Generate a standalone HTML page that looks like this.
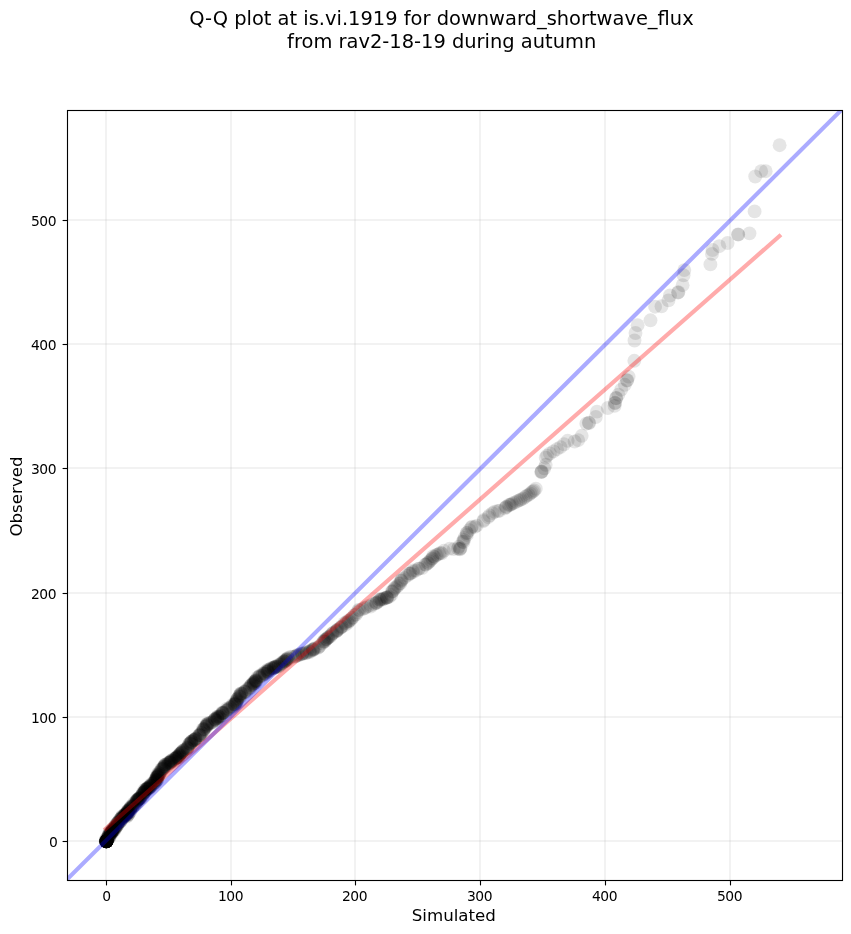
<!DOCTYPE html>
<html><head><meta charset="utf-8"><title>Q-Q plot</title>
<style>
html,body{margin:0;padding:0;background:#fff;}
body{width:851px;height:934px;overflow:hidden;}
svg{display:block;font-family:"DejaVu Sans","Liberation Sans",sans-serif;}
</style></head><body>
<svg width="851" height="934" viewBox="0 0 851 934">
<rect width="851" height="934" fill="#fff"/>
<defs><clipPath id="ax"><rect x="67.5" y="110.5" width="775" height="770"/></clipPath></defs>
<g stroke="#b0b0b0" stroke-opacity="0.165" stroke-width="2" fill="none"><line x1="106.0" y1="110.5" x2="106.0" y2="880.5"/><line x1="67.5" y1="841.0" x2="842.5" y2="841.0"/><line x1="231.0" y1="110.5" x2="231.0" y2="880.5"/><line x1="67.5" y1="717.0" x2="842.5" y2="717.0"/><line x1="355.0" y1="110.5" x2="355.0" y2="880.5"/><line x1="67.5" y1="593.0" x2="842.5" y2="593.0"/><line x1="480.0" y1="110.5" x2="480.0" y2="880.5"/><line x1="67.5" y1="468.0" x2="842.5" y2="468.0"/><line x1="605.0" y1="110.5" x2="605.0" y2="880.5"/><line x1="67.5" y1="344.0" x2="842.5" y2="344.0"/><line x1="730.0" y1="110.5" x2="730.0" y2="880.5"/><line x1="67.5" y1="220.0" x2="842.5" y2="220.0"/></g>
<g clip-path="url(#ax)">
<g fill="#000" fill-opacity="0.1"><circle cx="779.6" cy="145.2" r="6.94"/><circle cx="765.7" cy="171.2" r="6.94"/><circle cx="761.2" cy="171.2" r="6.94"/><circle cx="755.2" cy="176.5" r="6.94"/><circle cx="754.6" cy="211.4" r="6.94"/><circle cx="749.5" cy="233.4" r="6.94"/><circle cx="738.0" cy="234.4" r="6.94"/><circle cx="738.3" cy="234.6" r="6.94"/><circle cx="727.6" cy="243.0" r="6.94"/><circle cx="719.3" cy="246.2" r="6.94"/><circle cx="712.5" cy="250.0" r="6.94"/><circle cx="712.0" cy="253.9" r="6.94"/><circle cx="710.4" cy="264.4" r="6.94"/><circle cx="684.3" cy="270.1" r="6.94"/><circle cx="683.6" cy="275.3" r="6.94"/><circle cx="682.6" cy="285.2" r="6.94"/><circle cx="678.4" cy="292.2" r="6.94"/><circle cx="678.0" cy="292.6" r="6.94"/><circle cx="670.0" cy="295.5" r="6.94"/><circle cx="668.5" cy="300.4" r="6.94"/><circle cx="661.5" cy="306.3" r="6.94"/><circle cx="655.1" cy="306.7" r="6.94"/><circle cx="650.5" cy="320.3" r="6.94"/><circle cx="637.6" cy="325.2" r="6.94"/><circle cx="635.5" cy="333.0" r="6.94"/><circle cx="634.5" cy="340.5" r="6.94"/><circle cx="634.3" cy="360.8" r="6.94"/><circle cx="628.6" cy="376.6" r="6.94"/><circle cx="626.9" cy="380.5" r="6.94"/><circle cx="627.2" cy="380.2" r="6.94"/><circle cx="624.8" cy="384.8" r="6.94"/><circle cx="621.2" cy="389.7" r="6.94"/><circle cx="618.4" cy="394.6" r="6.94"/><circle cx="616.0" cy="398.2" r="6.94"/><circle cx="616.3" cy="398.0" r="6.94"/><circle cx="614.9" cy="403.1" r="6.94"/><circle cx="615.1" cy="402.8" r="6.94"/><circle cx="614.6" cy="405.9" r="6.94"/><circle cx="607.8" cy="408.0" r="6.94"/><circle cx="597.0" cy="411.6" r="6.94"/><circle cx="595.8" cy="417.0" r="6.94"/><circle cx="589.1" cy="423.0" r="6.94"/><circle cx="588.8" cy="422.7" r="6.94"/><circle cx="586.3" cy="423.7" r="6.94"/><circle cx="581.7" cy="435.8" r="6.94"/><circle cx="578.2" cy="440.1" r="6.94"/><circle cx="574.6" cy="441.5" r="6.94"/><circle cx="567.6" cy="440.8" r="6.94"/><circle cx="564.0" cy="444.3" r="6.94"/><circle cx="560.5" cy="447.1" r="6.94"/><circle cx="557.0" cy="449.2" r="6.94"/><circle cx="553.5" cy="451.4" r="6.94"/><circle cx="549.9" cy="453.5" r="6.94"/><circle cx="547.1" cy="455.6" r="6.94"/><circle cx="545.7" cy="457.7" r="6.94"/><circle cx="545.7" cy="464.8" r="6.94"/><circle cx="544.3" cy="468.3" r="6.94"/><circle cx="541.5" cy="471.8" r="6.94"/><circle cx="541.8" cy="471.5" r="6.94"/><circle cx="541.2" cy="472.1" r="6.94"/><circle cx="535.8" cy="488.7" r="6.94"/><circle cx="533.0" cy="491.5" r="6.94"/><circle cx="530.2" cy="493.7" r="6.94"/><circle cx="526.7" cy="495.8" r="6.94"/><circle cx="523.1" cy="498.6" r="6.94"/><circle cx="518.2" cy="500.7" r="6.94"/><circle cx="514.0" cy="502.8" r="6.94"/><circle cx="509.7" cy="504.9" r="6.94"/><circle cx="534.2" cy="490.4" r="6.94"/><circle cx="531.5" cy="492.3" r="6.94"/><circle cx="528.6" cy="494.9" r="6.94"/><circle cx="525.0" cy="497.0" r="6.94"/><circle cx="521.0" cy="499.4" r="6.94"/><circle cx="516.3" cy="501.9" r="6.94"/><circle cx="512.0" cy="503.6" r="6.94"/><circle cx="520.0" cy="500.2" r="6.94"/><circle cx="511.0" cy="504.6" r="6.94"/><circle cx="508.9" cy="505.0" r="6.94"/><circle cx="506.5" cy="506.7" r="6.94"/><circle cx="506.0" cy="507.1" r="6.94"/><circle cx="505.0" cy="508.3" r="6.94"/><circle cx="499.4" cy="510.8" r="6.94"/><circle cx="497.8" cy="511.0" r="6.94"/><circle cx="494.6" cy="511.8" r="6.94"/><circle cx="492.5" cy="513.1" r="6.94"/><circle cx="489.4" cy="515.5" r="6.94"/><circle cx="488.2" cy="517.2" r="6.94"/><circle cx="483.8" cy="520.0" r="6.94"/><circle cx="483.4" cy="521.2" r="6.94"/><circle cx="476.7" cy="525.6" r="6.94"/><circle cx="474.8" cy="526.9" r="6.94"/><circle cx="472.0" cy="526.7" r="6.94"/><circle cx="471.2" cy="527.7" r="6.94"/><circle cx="469.3" cy="530.2" r="6.94"/><circle cx="467.1" cy="532.8" r="6.94"/><circle cx="466.6" cy="533.1" r="6.94"/><circle cx="466.9" cy="534.9" r="6.94"/><circle cx="464.4" cy="538.0" r="6.94"/><circle cx="463.8" cy="539.9" r="6.94"/><circle cx="463.5" cy="542.0" r="6.94"/><circle cx="462.5" cy="541.8" r="6.94"/><circle cx="458.7" cy="546.8" r="6.94"/><circle cx="460.6" cy="548.2" r="6.94"/><circle cx="459.8" cy="548.9" r="6.94"/><circle cx="460.0" cy="549.3" r="6.94"/><circle cx="457.8" cy="548.7" r="6.94"/><circle cx="453.7" cy="549.1" r="6.94"/><circle cx="449.7" cy="548.6" r="6.94"/><circle cx="443.9" cy="550.8" r="6.94"/><circle cx="441.7" cy="553.3" r="6.94"/><circle cx="440.5" cy="552.9" r="6.94"/><circle cx="439.2" cy="553.7" r="6.94"/><circle cx="437.4" cy="554.7" r="6.94"/><circle cx="436.1" cy="555.2" r="6.94"/><circle cx="434.4" cy="556.9" r="6.94"/><circle cx="433.2" cy="556.2" r="6.94"/><circle cx="432.3" cy="558.1" r="6.94"/><circle cx="432.1" cy="558.9" r="6.94"/><circle cx="430.6" cy="560.1" r="6.94"/><circle cx="429.4" cy="561.5" r="6.94"/><circle cx="428.2" cy="562.9" r="6.94"/><circle cx="427.5" cy="563.2" r="6.94"/><circle cx="426.1" cy="564.5" r="6.94"/><circle cx="425.2" cy="564.6" r="6.94"/><circle cx="422.2" cy="568.0" r="6.94"/><circle cx="419.1" cy="568.6" r="6.94"/><circle cx="418.5" cy="568.7" r="6.94"/><circle cx="415.9" cy="570.5" r="6.94"/><circle cx="413.0" cy="570.5" r="6.94"/><circle cx="413.0" cy="572.0" r="6.94"/><circle cx="410.6" cy="573.2" r="6.94"/><circle cx="409.2" cy="573.6" r="6.94"/><circle cx="410.0" cy="573.8" r="6.94"/><circle cx="407.3" cy="575.6" r="6.94"/><circle cx="404.3" cy="577.9" r="6.94"/><circle cx="401.9" cy="579.3" r="6.94"/><circle cx="401.4" cy="580.8" r="6.94"/><circle cx="400.9" cy="580.7" r="6.94"/><circle cx="400.6" cy="583.1" r="6.94"/><circle cx="399.3" cy="583.7" r="6.94"/><circle cx="397.9" cy="585.7" r="6.94"/><circle cx="396.4" cy="586.9" r="6.94"/><circle cx="394.7" cy="588.0" r="6.94"/><circle cx="394.5" cy="589.1" r="6.94"/><circle cx="393.1" cy="590.7" r="6.94"/><circle cx="391.8" cy="591.7" r="6.94"/><circle cx="392.6" cy="591.5" r="6.94"/><circle cx="391.2" cy="594.9" r="6.94"/><circle cx="389.3" cy="596.9" r="6.94"/><circle cx="387.6" cy="597.0" r="6.94"/><circle cx="386.9" cy="597.5" r="6.94"/><circle cx="386.6" cy="597.9" r="6.94"/><circle cx="386.8" cy="597.7" r="6.94"/><circle cx="384.8" cy="598.0" r="6.94"/><circle cx="383.9" cy="598.9" r="6.94"/><circle cx="382.7" cy="599.1" r="6.94"/><circle cx="381.3" cy="598.9" r="6.94"/><circle cx="381.5" cy="599.8" r="6.94"/><circle cx="379.7" cy="599.6" r="6.94"/><circle cx="379.9" cy="599.9" r="6.94"/><circle cx="378.4" cy="601.6" r="6.94"/><circle cx="376.7" cy="602.4" r="6.94"/><circle cx="376.4" cy="603.2" r="6.94"/><circle cx="375.9" cy="602.9" r="6.94"/><circle cx="374.2" cy="603.8" r="6.94"/><circle cx="371.2" cy="605.0" r="6.94"/><circle cx="370.7" cy="606.5" r="6.94"/><circle cx="367.8" cy="606.2" r="6.94"/><circle cx="365.5" cy="607.6" r="6.94"/><circle cx="364.5" cy="608.3" r="6.94"/><circle cx="362.5" cy="609.1" r="6.94"/><circle cx="359.5" cy="610.1" r="6.94"/><circle cx="358.5" cy="609.9" r="6.94"/><circle cx="357.2" cy="612.3" r="6.94"/><circle cx="356.0" cy="614.5" r="6.94"/><circle cx="354.3" cy="615.1" r="6.94"/><circle cx="352.8" cy="617.6" r="6.94"/><circle cx="351.7" cy="618.1" r="6.94"/><circle cx="351.0" cy="619.6" r="6.94"/><circle cx="349.3" cy="620.5" r="6.94"/><circle cx="348.6" cy="621.4" r="6.94"/><circle cx="347.2" cy="621.3" r="6.94"/><circle cx="347.8" cy="622.9" r="6.94"/><circle cx="345.7" cy="622.9" r="6.94"/><circle cx="344.4" cy="623.2" r="6.94"/><circle cx="345.3" cy="624.9" r="6.94"/><circle cx="341.5" cy="626.5" r="6.94"/><circle cx="341.7" cy="626.9" r="6.94"/><circle cx="340.7" cy="627.7" r="6.94"/><circle cx="340.0" cy="628.2" r="6.94"/><circle cx="337.6" cy="629.7" r="6.94"/><circle cx="337.4" cy="630.4" r="6.94"/><circle cx="336.7" cy="630.3" r="6.94"/><circle cx="336.4" cy="631.0" r="6.94"/><circle cx="336.0" cy="631.6" r="6.94"/><circle cx="333.6" cy="632.6" r="6.94"/><circle cx="332.4" cy="633.3" r="6.94"/><circle cx="332.1" cy="634.0" r="6.94"/><circle cx="331.1" cy="635.2" r="6.94"/><circle cx="330.2" cy="636.5" r="6.94"/><circle cx="328.8" cy="636.8" r="6.94"/><circle cx="328.2" cy="637.8" r="6.94"/><circle cx="327.9" cy="637.6" r="6.94"/><circle cx="327.1" cy="638.5" r="6.94"/><circle cx="326.2" cy="639.2" r="6.94"/><circle cx="326.1" cy="639.4" r="6.94"/><circle cx="324.7" cy="639.9" r="6.94"/><circle cx="324.9" cy="640.9" r="6.94"/><circle cx="324.7" cy="641.7" r="6.94"/><circle cx="323.7" cy="641.5" r="6.94"/><circle cx="323.4" cy="641.8" r="6.94"/><circle cx="322.2" cy="643.4" r="6.94"/><circle cx="319.5" cy="646.0" r="6.94"/><circle cx="318.8" cy="647.2" r="6.94"/><circle cx="317.9" cy="647.9" r="6.94"/><circle cx="315.0" cy="648.2" r="6.94"/><circle cx="314.4" cy="649.0" r="6.94"/><circle cx="313.3" cy="649.1" r="6.94"/><circle cx="312.7" cy="649.4" r="6.94"/><circle cx="313.2" cy="649.8" r="6.94"/><circle cx="312.5" cy="650.4" r="6.94"/><circle cx="310.5" cy="650.7" r="6.94"/><circle cx="309.3" cy="651.6" r="6.94"/><circle cx="309.9" cy="652.0" r="6.94"/><circle cx="306.7" cy="652.0" r="6.94"/><circle cx="306.7" cy="653.0" r="6.94"/><circle cx="305.1" cy="653.3" r="6.94"/><circle cx="304.0" cy="652.9" r="6.94"/><circle cx="302.2" cy="653.5" r="6.94"/><circle cx="302.4" cy="653.7" r="6.94"/><circle cx="301.8" cy="654.2" r="6.94"/><circle cx="300.0" cy="654.3" r="6.94"/><circle cx="298.8" cy="655.2" r="6.94"/><circle cx="297.7" cy="654.6" r="6.94"/><circle cx="297.0" cy="655.6" r="6.94"/><circle cx="295.9" cy="656.2" r="6.94"/><circle cx="295.2" cy="656.5" r="6.94"/><circle cx="292.7" cy="656.8" r="6.94"/><circle cx="290.6" cy="656.8" r="6.94"/><circle cx="288.4" cy="659.1" r="6.94"/><circle cx="287.5" cy="658.2" r="6.94"/><circle cx="288.0" cy="658.2" r="6.94"/><circle cx="286.7" cy="659.3" r="6.94"/><circle cx="286.7" cy="659.7" r="6.94"/><circle cx="285.9" cy="659.8" r="6.94"/><circle cx="286.5" cy="660.6" r="6.94"/><circle cx="285.4" cy="660.4" r="6.94"/><circle cx="284.7" cy="661.6" r="6.94"/><circle cx="283.5" cy="661.3" r="6.94"/><circle cx="284.7" cy="661.4" r="6.94"/><circle cx="284.3" cy="661.7" r="6.94"/><circle cx="282.9" cy="662.4" r="6.94"/><circle cx="282.6" cy="663.1" r="6.94"/><circle cx="281.1" cy="663.3" r="6.94"/><circle cx="280.9" cy="664.1" r="6.94"/><circle cx="280.7" cy="664.8" r="6.94"/><circle cx="278.9" cy="664.7" r="6.94"/><circle cx="278.3" cy="665.9" r="6.94"/><circle cx="278.6" cy="666.5" r="6.94"/><circle cx="276.8" cy="666.4" r="6.94"/><circle cx="276.0" cy="666.1" r="6.94"/><circle cx="276.3" cy="667.3" r="6.94"/><circle cx="275.4" cy="666.7" r="6.94"/><circle cx="275.5" cy="667.3" r="6.94"/><circle cx="275.1" cy="667.1" r="6.94"/><circle cx="274.3" cy="667.2" r="6.94"/><circle cx="273.7" cy="667.5" r="6.94"/><circle cx="273.6" cy="668.0" r="6.94"/><circle cx="273.8" cy="668.3" r="6.94"/><circle cx="272.6" cy="668.6" r="6.94"/><circle cx="271.4" cy="668.1" r="6.94"/><circle cx="271.5" cy="668.1" r="6.94"/><circle cx="269.4" cy="669.6" r="6.94"/><circle cx="270.1" cy="670.0" r="6.94"/><circle cx="268.7" cy="670.1" r="6.94"/><circle cx="268.2" cy="669.5" r="6.94"/><circle cx="268.1" cy="671.2" r="6.94"/><circle cx="267.8" cy="671.5" r="6.94"/><circle cx="266.9" cy="670.7" r="6.94"/><circle cx="267.7" cy="671.8" r="6.94"/><circle cx="267.0" cy="672.1" r="6.94"/><circle cx="264.8" cy="672.1" r="6.94"/><circle cx="265.2" cy="674.0" r="6.94"/><circle cx="264.8" cy="673.5" r="6.94"/><circle cx="264.6" cy="673.6" r="6.94"/><circle cx="263.2" cy="673.4" r="6.94"/><circle cx="263.1" cy="674.5" r="6.94"/><circle cx="262.2" cy="675.9" r="6.94"/><circle cx="261.5" cy="675.7" r="6.94"/><circle cx="260.0" cy="675.4" r="6.94"/><circle cx="259.8" cy="676.2" r="6.94"/><circle cx="258.8" cy="676.7" r="6.94"/><circle cx="259.3" cy="677.4" r="6.94"/><circle cx="257.4" cy="677.5" r="6.94"/><circle cx="256.1" cy="679.8" r="6.94"/><circle cx="256.2" cy="680.7" r="6.94"/><circle cx="255.2" cy="681.2" r="6.94"/><circle cx="255.8" cy="680.7" r="6.94"/><circle cx="255.6" cy="680.7" r="6.94"/><circle cx="256.0" cy="681.8" r="6.94"/><circle cx="255.6" cy="682.8" r="6.94"/><circle cx="254.7" cy="681.6" r="6.94"/><circle cx="253.7" cy="682.0" r="6.94"/><circle cx="254.0" cy="683.3" r="6.94"/><circle cx="253.8" cy="683.0" r="6.94"/><circle cx="253.9" cy="683.4" r="6.94"/><circle cx="253.0" cy="684.8" r="6.94"/><circle cx="252.6" cy="684.2" r="6.94"/><circle cx="251.8" cy="684.4" r="6.94"/><circle cx="250.9" cy="685.4" r="6.94"/><circle cx="251.5" cy="685.4" r="6.94"/><circle cx="249.9" cy="686.5" r="6.94"/><circle cx="250.1" cy="687.5" r="6.94"/><circle cx="249.8" cy="688.0" r="6.94"/><circle cx="247.9" cy="688.7" r="6.94"/><circle cx="248.1" cy="689.3" r="6.94"/><circle cx="245.2" cy="691.6" r="6.94"/><circle cx="245.9" cy="692.2" r="6.94"/><circle cx="245.6" cy="690.7" r="6.94"/><circle cx="244.5" cy="691.8" r="6.94"/><circle cx="244.5" cy="692.0" r="6.94"/><circle cx="241.0" cy="693.4" r="6.94"/><circle cx="242.5" cy="693.6" r="6.94"/><circle cx="241.4" cy="693.7" r="6.94"/><circle cx="240.7" cy="693.5" r="6.94"/><circle cx="241.0" cy="694.8" r="6.94"/><circle cx="239.6" cy="695.1" r="6.94"/><circle cx="239.6" cy="695.3" r="6.94"/><circle cx="239.3" cy="696.5" r="6.94"/><circle cx="239.8" cy="696.9" r="6.94"/><circle cx="240.3" cy="696.8" r="6.94"/><circle cx="238.1" cy="698.4" r="6.94"/><circle cx="237.5" cy="698.7" r="6.94"/><circle cx="237.1" cy="699.9" r="6.94"/><circle cx="236.5" cy="699.8" r="6.94"/><circle cx="236.9" cy="700.9" r="6.94"/><circle cx="236.8" cy="701.5" r="6.94"/><circle cx="235.9" cy="702.0" r="6.94"/><circle cx="236.3" cy="703.1" r="6.94"/><circle cx="236.7" cy="702.7" r="6.94"/><circle cx="235.4" cy="703.7" r="6.94"/><circle cx="234.9" cy="704.1" r="6.94"/><circle cx="234.9" cy="704.7" r="6.94"/><circle cx="234.4" cy="704.2" r="6.94"/><circle cx="234.5" cy="705.1" r="6.94"/><circle cx="232.9" cy="704.5" r="6.94"/><circle cx="232.6" cy="706.5" r="6.94"/><circle cx="232.0" cy="706.4" r="6.94"/><circle cx="230.6" cy="707.7" r="6.94"/><circle cx="230.1" cy="707.2" r="6.94"/><circle cx="228.8" cy="709.0" r="6.94"/><circle cx="228.4" cy="709.1" r="6.94"/><circle cx="227.4" cy="709.9" r="6.94"/><circle cx="226.8" cy="708.7" r="6.94"/><circle cx="226.5" cy="710.8" r="6.94"/><circle cx="226.6" cy="710.3" r="6.94"/><circle cx="225.0" cy="712.2" r="6.94"/><circle cx="223.4" cy="712.7" r="6.94"/><circle cx="223.3" cy="712.8" r="6.94"/><circle cx="222.3" cy="713.1" r="6.94"/><circle cx="222.3" cy="712.5" r="6.94"/><circle cx="222.1" cy="713.3" r="6.94"/><circle cx="222.9" cy="713.4" r="6.94"/><circle cx="221.6" cy="715.7" r="6.94"/><circle cx="220.3" cy="715.5" r="6.94"/><circle cx="220.5" cy="716.4" r="6.94"/><circle cx="219.1" cy="716.7" r="6.94"/><circle cx="219.3" cy="717.7" r="6.94"/><circle cx="219.1" cy="716.8" r="6.94"/><circle cx="218.0" cy="716.5" r="6.94"/><circle cx="217.3" cy="716.7" r="6.94"/><circle cx="217.5" cy="718.7" r="6.94"/><circle cx="217.4" cy="718.2" r="6.94"/><circle cx="217.0" cy="717.8" r="6.94"/><circle cx="217.2" cy="718.0" r="6.94"/><circle cx="216.4" cy="720.4" r="6.94"/><circle cx="214.9" cy="719.2" r="6.94"/><circle cx="214.9" cy="719.3" r="6.94"/><circle cx="215.1" cy="718.8" r="6.94"/><circle cx="215.0" cy="719.8" r="6.94"/><circle cx="214.4" cy="720.5" r="6.94"/><circle cx="212.8" cy="721.5" r="6.94"/><circle cx="211.7" cy="722.3" r="6.94"/><circle cx="212.5" cy="722.6" r="6.94"/><circle cx="209.7" cy="723.1" r="6.94"/><circle cx="209.5" cy="723.2" r="6.94"/><circle cx="208.1" cy="723.9" r="6.94"/><circle cx="207.8" cy="723.1" r="6.94"/><circle cx="206.6" cy="724.5" r="6.94"/><circle cx="206.9" cy="724.5" r="6.94"/><circle cx="207.4" cy="724.9" r="6.94"/><circle cx="207.3" cy="725.4" r="6.94"/><circle cx="206.1" cy="726.2" r="6.94"/><circle cx="206.6" cy="726.0" r="6.94"/><circle cx="205.6" cy="727.3" r="6.94"/><circle cx="205.3" cy="726.8" r="6.94"/><circle cx="203.7" cy="728.9" r="6.94"/><circle cx="203.9" cy="729.1" r="6.94"/><circle cx="203.9" cy="729.2" r="6.94"/><circle cx="203.7" cy="730.3" r="6.94"/><circle cx="202.7" cy="729.5" r="6.94"/><circle cx="203.2" cy="731.1" r="6.94"/><circle cx="201.6" cy="733.2" r="6.94"/><circle cx="201.2" cy="732.9" r="6.94"/><circle cx="200.5" cy="735.2" r="6.94"/><circle cx="199.8" cy="734.3" r="6.94"/><circle cx="200.2" cy="735.1" r="6.94"/><circle cx="199.1" cy="735.4" r="6.94"/><circle cx="199.5" cy="735.1" r="6.94"/><circle cx="199.1" cy="735.6" r="6.94"/><circle cx="197.1" cy="737.8" r="6.94"/><circle cx="195.7" cy="738.5" r="6.94"/><circle cx="195.7" cy="738.9" r="6.94"/><circle cx="195.2" cy="739.2" r="6.94"/><circle cx="195.5" cy="738.9" r="6.94"/><circle cx="194.9" cy="740.0" r="6.94"/><circle cx="194.4" cy="740.0" r="6.94"/><circle cx="193.9" cy="740.2" r="6.94"/><circle cx="194.1" cy="740.1" r="6.94"/><circle cx="193.3" cy="740.1" r="6.94"/><circle cx="191.1" cy="742.0" r="6.94"/><circle cx="191.9" cy="741.5" r="6.94"/><circle cx="191.5" cy="741.9" r="6.94"/><circle cx="191.2" cy="741.7" r="6.94"/><circle cx="191.2" cy="742.6" r="6.94"/><circle cx="190.5" cy="743.5" r="6.94"/><circle cx="189.6" cy="743.4" r="6.94"/><circle cx="189.5" cy="743.6" r="6.94"/><circle cx="190.4" cy="744.1" r="6.94"/><circle cx="188.8" cy="744.7" r="6.94"/><circle cx="188.5" cy="746.5" r="6.94"/><circle cx="187.2" cy="747.4" r="6.94"/><circle cx="187.4" cy="748.2" r="6.94"/><circle cx="187.6" cy="748.1" r="6.94"/><circle cx="187.2" cy="748.3" r="6.94"/><circle cx="185.5" cy="749.1" r="6.94"/><circle cx="186.0" cy="749.9" r="6.94"/><circle cx="184.8" cy="749.9" r="6.94"/><circle cx="183.3" cy="750.6" r="6.94"/><circle cx="183.0" cy="752.4" r="6.94"/><circle cx="182.5" cy="751.3" r="6.94"/><circle cx="183.0" cy="750.6" r="6.94"/><circle cx="182.0" cy="752.0" r="6.94"/><circle cx="181.4" cy="752.6" r="6.94"/><circle cx="181.9" cy="752.4" r="6.94"/><circle cx="181.1" cy="753.1" r="6.94"/><circle cx="180.7" cy="753.7" r="6.94"/><circle cx="180.0" cy="753.6" r="6.94"/><circle cx="179.9" cy="754.2" r="6.94"/><circle cx="179.4" cy="754.9" r="6.94"/><circle cx="179.4" cy="755.7" r="6.94"/><circle cx="179.5" cy="755.4" r="6.94"/><circle cx="178.6" cy="755.4" r="6.94"/><circle cx="178.7" cy="756.8" r="6.94"/><circle cx="178.5" cy="757.2" r="6.94"/><circle cx="177.2" cy="756.6" r="6.94"/><circle cx="177.3" cy="757.3" r="6.94"/><circle cx="176.3" cy="757.8" r="6.94"/><circle cx="177.3" cy="757.5" r="6.94"/><circle cx="177.1" cy="756.7" r="6.94"/><circle cx="176.7" cy="758.3" r="6.94"/><circle cx="175.9" cy="758.0" r="6.94"/><circle cx="175.2" cy="758.7" r="6.94"/><circle cx="175.3" cy="758.7" r="6.94"/><circle cx="174.9" cy="759.0" r="6.94"/><circle cx="173.4" cy="759.2" r="6.94"/><circle cx="174.7" cy="760.3" r="6.94"/><circle cx="173.2" cy="761.1" r="6.94"/><circle cx="171.3" cy="760.4" r="6.94"/><circle cx="172.0" cy="760.9" r="6.94"/><circle cx="171.5" cy="760.7" r="6.94"/><circle cx="171.2" cy="761.4" r="6.94"/><circle cx="170.5" cy="761.7" r="6.94"/><circle cx="170.4" cy="761.9" r="6.94"/><circle cx="170.4" cy="762.8" r="6.94"/><circle cx="169.4" cy="762.8" r="6.94"/><circle cx="170.3" cy="762.8" r="6.94"/><circle cx="169.2" cy="762.7" r="6.94"/><circle cx="168.3" cy="762.6" r="6.94"/><circle cx="168.0" cy="763.3" r="6.94"/><circle cx="168.3" cy="763.8" r="6.94"/><circle cx="168.1" cy="764.9" r="6.94"/><circle cx="166.5" cy="764.4" r="6.94"/><circle cx="165.3" cy="764.6" r="6.94"/><circle cx="166.0" cy="766.5" r="6.94"/><circle cx="165.1" cy="764.6" r="6.94"/><circle cx="164.9" cy="765.0" r="6.94"/><circle cx="163.7" cy="766.4" r="6.94"/><circle cx="164.8" cy="766.0" r="6.94"/><circle cx="164.3" cy="767.4" r="6.94"/><circle cx="164.8" cy="766.5" r="6.94"/><circle cx="163.7" cy="766.9" r="6.94"/><circle cx="163.4" cy="768.7" r="6.94"/><circle cx="163.0" cy="768.6" r="6.94"/><circle cx="162.8" cy="768.4" r="6.94"/><circle cx="161.3" cy="769.2" r="6.94"/><circle cx="162.0" cy="769.5" r="6.94"/><circle cx="161.2" cy="769.8" r="6.94"/><circle cx="161.3" cy="771.3" r="6.94"/><circle cx="160.2" cy="771.8" r="6.94"/><circle cx="160.2" cy="773.4" r="6.94"/><circle cx="159.2" cy="773.2" r="6.94"/><circle cx="158.6" cy="772.8" r="6.94"/><circle cx="159.4" cy="773.8" r="6.94"/><circle cx="157.4" cy="774.6" r="6.94"/><circle cx="158.7" cy="775.3" r="6.94"/><circle cx="158.5" cy="775.5" r="6.94"/><circle cx="159.1" cy="775.0" r="6.94"/><circle cx="158.6" cy="775.1" r="6.94"/><circle cx="157.4" cy="776.4" r="6.94"/><circle cx="157.7" cy="775.8" r="6.94"/><circle cx="156.9" cy="776.7" r="6.94"/><circle cx="157.7" cy="777.2" r="6.94"/><circle cx="157.3" cy="777.5" r="6.94"/><circle cx="157.0" cy="777.0" r="6.94"/><circle cx="157.7" cy="777.5" r="6.94"/><circle cx="156.8" cy="777.5" r="6.94"/><circle cx="156.3" cy="777.8" r="6.94"/><circle cx="156.1" cy="778.8" r="6.94"/><circle cx="157.3" cy="779.4" r="6.94"/><circle cx="157.2" cy="780.1" r="6.94"/><circle cx="155.7" cy="779.5" r="6.94"/><circle cx="156.3" cy="780.1" r="6.94"/><circle cx="156.1" cy="780.4" r="6.94"/><circle cx="155.3" cy="780.8" r="6.94"/><circle cx="156.0" cy="781.1" r="6.94"/><circle cx="155.0" cy="780.2" r="6.94"/><circle cx="155.4" cy="782.2" r="6.94"/><circle cx="154.1" cy="782.2" r="6.94"/><circle cx="154.8" cy="782.9" r="6.94"/><circle cx="154.3" cy="782.5" r="6.94"/><circle cx="153.4" cy="783.7" r="6.94"/><circle cx="152.0" cy="783.8" r="6.94"/><circle cx="152.5" cy="784.1" r="6.94"/><circle cx="151.0" cy="784.5" r="6.94"/><circle cx="152.8" cy="785.1" r="6.94"/><circle cx="150.7" cy="785.9" r="6.94"/><circle cx="150.7" cy="786.2" r="6.94"/><circle cx="150.7" cy="786.8" r="6.94"/><circle cx="150.4" cy="786.2" r="6.94"/><circle cx="150.1" cy="785.7" r="6.94"/><circle cx="149.3" cy="787.1" r="6.94"/><circle cx="149.8" cy="787.4" r="6.94"/><circle cx="148.8" cy="787.3" r="6.94"/><circle cx="149.2" cy="787.9" r="6.94"/><circle cx="148.6" cy="789.0" r="6.94"/><circle cx="148.0" cy="788.6" r="6.94"/><circle cx="148.1" cy="787.5" r="6.94"/><circle cx="147.9" cy="788.1" r="6.94"/><circle cx="147.9" cy="788.9" r="6.94"/><circle cx="147.0" cy="788.3" r="6.94"/><circle cx="147.4" cy="788.4" r="6.94"/><circle cx="146.6" cy="789.2" r="6.94"/><circle cx="146.3" cy="789.8" r="6.94"/><circle cx="146.8" cy="789.5" r="6.94"/><circle cx="146.0" cy="789.5" r="6.94"/><circle cx="145.7" cy="789.5" r="6.94"/><circle cx="144.4" cy="790.0" r="6.94"/><circle cx="145.9" cy="790.0" r="6.94"/><circle cx="145.2" cy="791.4" r="6.94"/><circle cx="144.2" cy="791.9" r="6.94"/><circle cx="144.7" cy="791.7" r="6.94"/><circle cx="144.7" cy="791.9" r="6.94"/><circle cx="144.5" cy="792.2" r="6.94"/><circle cx="144.3" cy="792.1" r="6.94"/><circle cx="144.2" cy="792.4" r="6.94"/><circle cx="143.1" cy="793.6" r="6.94"/><circle cx="142.6" cy="793.2" r="6.94"/><circle cx="142.6" cy="793.6" r="6.94"/><circle cx="143.4" cy="793.9" r="6.94"/><circle cx="142.5" cy="794.9" r="6.94"/><circle cx="142.8" cy="796.0" r="6.94"/><circle cx="142.0" cy="795.3" r="6.94"/><circle cx="141.2" cy="795.8" r="6.94"/><circle cx="140.8" cy="796.8" r="6.94"/><circle cx="140.5" cy="798.3" r="6.94"/><circle cx="139.9" cy="797.3" r="6.94"/><circle cx="139.5" cy="798.2" r="6.94"/><circle cx="139.7" cy="798.1" r="6.94"/><circle cx="140.4" cy="798.3" r="6.94"/><circle cx="139.5" cy="798.8" r="6.94"/><circle cx="138.9" cy="799.1" r="6.94"/><circle cx="138.7" cy="799.1" r="6.94"/><circle cx="138.8" cy="798.4" r="6.94"/><circle cx="138.1" cy="799.4" r="6.94"/><circle cx="138.5" cy="799.1" r="6.94"/><circle cx="137.1" cy="799.7" r="6.94"/><circle cx="137.6" cy="800.3" r="6.94"/><circle cx="137.2" cy="799.9" r="6.94"/><circle cx="137.0" cy="800.5" r="6.94"/><circle cx="137.8" cy="802.0" r="6.94"/><circle cx="137.3" cy="800.6" r="6.94"/><circle cx="136.7" cy="801.5" r="6.94"/><circle cx="137.0" cy="800.8" r="6.94"/><circle cx="136.1" cy="802.1" r="6.94"/><circle cx="136.4" cy="802.9" r="6.94"/><circle cx="135.5" cy="801.7" r="6.94"/><circle cx="133.7" cy="803.4" r="6.94"/><circle cx="134.8" cy="805.1" r="6.94"/><circle cx="134.6" cy="805.2" r="6.94"/><circle cx="133.6" cy="804.8" r="6.94"/><circle cx="133.9" cy="805.3" r="6.94"/><circle cx="132.9" cy="806.6" r="6.94"/><circle cx="131.8" cy="805.7" r="6.94"/><circle cx="132.5" cy="806.6" r="6.94"/><circle cx="132.3" cy="806.8" r="6.94"/><circle cx="132.4" cy="807.8" r="6.94"/><circle cx="130.8" cy="807.3" r="6.94"/><circle cx="131.3" cy="806.6" r="6.94"/><circle cx="130.9" cy="808.3" r="6.94"/><circle cx="131.3" cy="807.8" r="6.94"/><circle cx="129.9" cy="808.2" r="6.94"/><circle cx="130.1" cy="809.2" r="6.94"/><circle cx="130.1" cy="809.1" r="6.94"/><circle cx="129.5" cy="808.9" r="6.94"/><circle cx="130.0" cy="809.6" r="6.94"/><circle cx="129.7" cy="810.2" r="6.94"/><circle cx="128.3" cy="811.1" r="6.94"/><circle cx="128.1" cy="810.7" r="6.94"/><circle cx="128.1" cy="810.4" r="6.94"/><circle cx="127.4" cy="811.1" r="6.94"/><circle cx="128.3" cy="810.8" r="6.94"/><circle cx="128.3" cy="811.9" r="6.94"/><circle cx="127.6" cy="811.6" r="6.94"/><circle cx="127.9" cy="812.5" r="6.94"/><circle cx="127.6" cy="812.3" r="6.94"/><circle cx="127.7" cy="812.3" r="6.94"/><circle cx="126.8" cy="813.4" r="6.94"/><circle cx="127.1" cy="813.2" r="6.94"/><circle cx="127.2" cy="813.6" r="6.94"/><circle cx="126.0" cy="814.2" r="6.94"/><circle cx="125.0" cy="813.8" r="6.94"/><circle cx="125.7" cy="814.2" r="6.94"/><circle cx="125.2" cy="814.7" r="6.94"/><circle cx="125.6" cy="814.4" r="6.94"/><circle cx="126.2" cy="815.1" r="6.94"/><circle cx="125.2" cy="815.6" r="6.94"/><circle cx="125.7" cy="815.4" r="6.94"/><circle cx="125.0" cy="815.2" r="6.94"/><circle cx="124.6" cy="816.3" r="6.94"/><circle cx="124.0" cy="815.6" r="6.94"/><circle cx="124.0" cy="815.8" r="6.94"/><circle cx="124.2" cy="815.5" r="6.94"/><circle cx="122.3" cy="815.9" r="6.94"/><circle cx="123.1" cy="817.2" r="6.94"/><circle cx="123.1" cy="816.9" r="6.94"/><circle cx="121.9" cy="818.1" r="6.94"/><circle cx="122.1" cy="816.9" r="6.94"/><circle cx="122.3" cy="818.4" r="6.94"/><circle cx="121.7" cy="817.2" r="6.94"/><circle cx="122.6" cy="818.1" r="6.94"/><circle cx="120.9" cy="818.6" r="6.94"/><circle cx="121.1" cy="819.4" r="6.94"/><circle cx="121.3" cy="820.3" r="6.94"/><circle cx="120.7" cy="818.9" r="6.94"/><circle cx="120.4" cy="819.3" r="6.94"/><circle cx="119.4" cy="819.8" r="6.94"/><circle cx="120.4" cy="821.6" r="6.94"/><circle cx="120.4" cy="821.2" r="6.94"/><circle cx="119.6" cy="822.1" r="6.94"/><circle cx="119.4" cy="820.9" r="6.94"/><circle cx="118.7" cy="822.3" r="6.94"/><circle cx="118.3" cy="822.0" r="6.94"/><circle cx="117.8" cy="823.0" r="6.94"/><circle cx="117.9" cy="824.3" r="6.94"/><circle cx="117.9" cy="823.0" r="6.94"/><circle cx="117.7" cy="822.6" r="6.94"/><circle cx="117.7" cy="824.6" r="6.94"/><circle cx="116.9" cy="824.5" r="6.94"/><circle cx="116.7" cy="823.6" r="6.94"/><circle cx="117.1" cy="825.5" r="6.94"/><circle cx="115.7" cy="825.2" r="6.94"/><circle cx="116.6" cy="826.4" r="6.94"/><circle cx="115.2" cy="826.2" r="6.94"/><circle cx="115.7" cy="827.2" r="6.94"/><circle cx="116.0" cy="826.5" r="6.94"/><circle cx="115.1" cy="826.6" r="6.94"/><circle cx="115.4" cy="828.1" r="6.94"/><circle cx="114.6" cy="827.4" r="6.94"/><circle cx="114.9" cy="828.1" r="6.94"/><circle cx="114.6" cy="828.5" r="6.94"/><circle cx="113.4" cy="828.5" r="6.94"/><circle cx="112.8" cy="830.0" r="6.94"/><circle cx="114.5" cy="830.0" r="6.94"/><circle cx="113.2" cy="830.3" r="6.94"/><circle cx="112.2" cy="829.3" r="6.94"/><circle cx="112.5" cy="830.5" r="6.94"/><circle cx="112.4" cy="829.8" r="6.94"/><circle cx="113.9" cy="830.2" r="6.94"/><circle cx="112.6" cy="830.7" r="6.94"/><circle cx="112.3" cy="831.0" r="6.94"/><circle cx="112.7" cy="832.3" r="6.94"/><circle cx="112.6" cy="830.8" r="6.94"/><circle cx="111.9" cy="830.9" r="6.94"/><circle cx="112.4" cy="831.8" r="6.94"/><circle cx="111.2" cy="832.7" r="6.94"/><circle cx="111.2" cy="832.0" r="6.94"/><circle cx="111.7" cy="831.7" r="6.94"/><circle cx="111.3" cy="832.9" r="6.94"/><circle cx="111.3" cy="832.2" r="6.94"/><circle cx="110.1" cy="832.2" r="6.94"/><circle cx="110.9" cy="833.1" r="6.94"/><circle cx="110.7" cy="833.3" r="6.94"/><circle cx="110.9" cy="832.9" r="6.94"/><circle cx="108.9" cy="833.7" r="6.94"/><circle cx="109.2" cy="834.2" r="6.94"/><circle cx="109.9" cy="834.6" r="6.94"/><circle cx="110.4" cy="835.5" r="6.94"/><circle cx="109.2" cy="833.8" r="6.94"/><circle cx="110.2" cy="834.2" r="6.94"/><circle cx="109.7" cy="835.8" r="6.94"/><circle cx="108.9" cy="835.2" r="6.94"/><circle cx="108.8" cy="836.1" r="6.94"/><circle cx="109.4" cy="836.8" r="6.94"/><circle cx="108.7" cy="836.2" r="6.94"/><circle cx="108.7" cy="835.6" r="6.94"/><circle cx="108.0" cy="836.6" r="6.94"/><circle cx="108.7" cy="838.1" r="6.94"/><circle cx="108.9" cy="838.2" r="6.94"/><circle cx="108.1" cy="838.1" r="6.94"/><circle cx="107.5" cy="838.8" r="6.94"/><circle cx="106.6" cy="838.4" r="6.94"/><circle cx="106.9" cy="839.1" r="6.94"/><circle cx="107.3" cy="840.2" r="6.94"/><circle cx="106.9" cy="839.4" r="6.94"/><circle cx="106.1" cy="839.9" r="6.94"/><circle cx="106.7" cy="841.0" r="6.94"/><circle cx="106.1" cy="839.3" r="6.94"/><circle cx="107.3" cy="840.4" r="6.94"/><circle cx="105.5" cy="841.2" r="6.94"/><circle cx="128.2" cy="814.6" r="6.94"/><circle cx="129.6" cy="812.4" r="6.94"/><circle cx="126.8" cy="816.6" r="6.94"/><circle cx="128.4" cy="814.2" r="6.94"/><circle cx="130.2" cy="811.6" r="6.94"/><circle cx="127.4" cy="815.8" r="6.94"/><circle cx="106.4" cy="841.4" r="6.94"/><circle cx="106.4" cy="841.4" r="6.94"/><circle cx="106.4" cy="841.4" r="6.94"/><circle cx="106.4" cy="841.4" r="6.94"/><circle cx="106.4" cy="841.4" r="6.94"/><circle cx="106.4" cy="841.4" r="6.94"/><circle cx="106.4" cy="841.4" r="6.94"/><circle cx="106.4" cy="841.4" r="6.94"/><circle cx="106.4" cy="841.4" r="6.94"/><circle cx="106.4" cy="841.4" r="6.94"/><circle cx="106.4" cy="841.4" r="6.94"/><circle cx="106.4" cy="841.4" r="6.94"/><circle cx="106.4" cy="841.4" r="6.94"/><circle cx="106.4" cy="841.4" r="6.94"/><circle cx="106.4" cy="841.4" r="6.94"/><circle cx="106.4" cy="841.4" r="6.94"/><circle cx="106.4" cy="841.4" r="6.94"/><circle cx="106.4" cy="841.4" r="6.94"/><circle cx="106.4" cy="841.4" r="6.94"/><circle cx="106.4" cy="841.4" r="6.94"/><circle cx="106.4" cy="841.4" r="6.94"/><circle cx="106.4" cy="841.4" r="6.94"/><circle cx="106.4" cy="841.4" r="6.94"/><circle cx="106.4" cy="841.4" r="6.94"/><circle cx="106.4" cy="841.4" r="6.94"/><circle cx="106.4" cy="841.4" r="6.94"/><circle cx="106.4" cy="841.4" r="6.94"/><circle cx="106.4" cy="841.4" r="6.94"/><circle cx="106.4" cy="841.4" r="6.94"/><circle cx="106.4" cy="841.4" r="6.94"/><circle cx="106.4" cy="841.4" r="6.94"/><circle cx="106.4" cy="841.4" r="6.94"/><circle cx="106.4" cy="841.4" r="6.94"/><circle cx="106.4" cy="841.4" r="6.94"/><circle cx="106.4" cy="841.4" r="6.94"/><circle cx="106.4" cy="841.4" r="6.94"/><circle cx="106.4" cy="841.4" r="6.94"/><circle cx="106.4" cy="841.4" r="6.94"/><circle cx="106.4" cy="841.4" r="6.94"/><circle cx="106.4" cy="841.4" r="6.94"/></g>
<line x1="105.7" y1="828.7" x2="779.4" y2="236.1" stroke="#f00" stroke-opacity="0.33" stroke-width="4.17" stroke-linecap="square"/>
<line x1="17.50" y1="928.58" x2="892.50" y2="59.22" stroke="#00f" stroke-opacity="0.33" stroke-width="4.17" stroke-linecap="square"/>
</g>
<g stroke="#000" stroke-width="1.11" fill="none"><line x1="106.5" y1="880.5" x2="106.5" y2="885.4"/><line x1="62.6" y1="841.5" x2="67.5" y2="841.5"/><line x1="231.5" y1="880.5" x2="231.5" y2="885.4"/><line x1="62.6" y1="717.5" x2="67.5" y2="717.5"/><line x1="355.5" y1="880.5" x2="355.5" y2="885.4"/><line x1="62.6" y1="593.5" x2="67.5" y2="593.5"/><line x1="480.5" y1="880.5" x2="480.5" y2="885.4"/><line x1="62.6" y1="468.5" x2="67.5" y2="468.5"/><line x1="605.5" y1="880.5" x2="605.5" y2="885.4"/><line x1="62.6" y1="344.5" x2="67.5" y2="344.5"/><line x1="730.5" y1="880.5" x2="730.5" y2="885.4"/><line x1="62.6" y1="220.5" x2="67.5" y2="220.5"/></g>
<rect x="67.5" y="110.5" width="775" height="770" fill="none" stroke="#000" stroke-width="1.11"/>
<g font-size="13.89px" fill="#000" letter-spacing="-0.45"><text x="106.5" y="900.6" text-anchor="middle">0</text><text x="57.3" y="846.8" text-anchor="end">0</text><text x="230.5" y="900.6" text-anchor="middle">100</text><text x="56.1" y="722.8" text-anchor="end">100</text><text x="354.5" y="900.6" text-anchor="middle">200</text><text x="56.1" y="598.8" text-anchor="end">200</text><text x="479.5" y="900.6" text-anchor="middle">300</text><text x="56.1" y="473.8" text-anchor="end">300</text><text x="604.5" y="900.6" text-anchor="middle">400</text><text x="56.1" y="349.8" text-anchor="end">400</text><text x="729.5" y="900.6" text-anchor="middle">500</text><text x="56.1" y="225.8" text-anchor="end">500</text></g>
<text x="453.8" y="920.5" font-size="16.67px" text-anchor="middle">Simulated</text>
<text transform="translate(21.5,496.5) rotate(-90)" font-size="16.67px" text-anchor="middle">Observed</text>
<text x="441.4" y="24.7" font-size="19.44px" text-anchor="middle">Q-Q plot at is.vi.1919 for downward_shortwave_flux</text>
<text x="441.7" y="47.6" font-size="19.44px" text-anchor="middle">from rav2-18-19 during autumn</text>
</svg>
</body></html>
